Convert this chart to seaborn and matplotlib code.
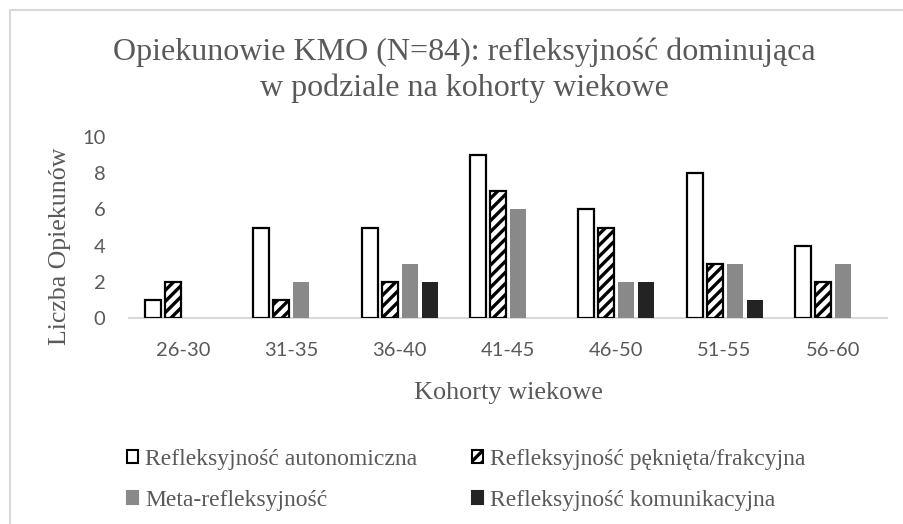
import matplotlib
matplotlib.use("Agg")
import matplotlib.pyplot as plt
import seaborn as sns
import pandas as pd
from matplotlib.patches import Rectangle

categories = ["26-30", "31-35", "36-40", "41-45", "46-50", "51-55", "56-60"]
series_names = ["Refleksyjność autonomiczna", "Refleksyjność pęknięta/frakcyjna",
                "Meta-refleksyjność", "Refleksyjność komunikacyjna"]
autonomiczna = [1, 5, 5, 9, 6, 8, 4]
peknieta = [2, 1, 2, 7, 5, 3, 2]
meta = [0, 2, 3, 6, 2, 3, 3]
komunikacyjna = [0, 0, 2, 0, 2, 1, 0]
y_ticks = [0, 2, 4, 6, 8, 10]

title = "Opiekunowie KMO (N=84): refleksyjność dominująca\nw podziale na kohorty wiekowe"
xlabel = "Kohorty wiekowe"
ylabel = "Liczba Opiekunów"

rows = []
for name, vals in zip(series_names, [autonomiczna, peknieta, meta, komunikacyjna]):
    for c, v in zip(categories, vals):
        rows.append({"Kohorta": c, "Seria": name, "Liczba": v})
df = pd.DataFrame(rows)

sns.set_theme(style="white")
plt.rcParams["hatch.linewidth"] = 2.4
plt.rcParams["hatch.color"] = "black"

W, H = 904, 524
fig = plt.figure(figsize=(W / 100, H / 100), dpi=100)
ax = fig.add_axes([129 / W, 1 - 318 / H, (887 - 129) / W, (318 - 137) / H])

palette = {series_names[0]: "white", series_names[1]: "white",
           series_names[2]: "#898989", series_names[3]: "#232323"}
sns.barplot(data=df, x="Kohorta", y="Liczba", hue="Seria", hue_order=series_names,
            order=categories, palette=palette, width=0.74, gap=0.2, ax=ax,
            errorbar=None, saturation=1)

styles = [dict(ec="black", lw=1.6, hatch=None),
          dict(ec="black", lw=1.6, hatch="///"),
          dict(ec="none", lw=0, hatch=None),
          dict(ec="none", lw=0, hatch=None)]
for cont, st in zip(ax.containers, styles):
    for p in cont:
        p.set_edgecolor(st["ec"])
        p.set_linewidth(st["lw"])
        if st["hatch"]:
            p.set_hatch(st["hatch"])
        if p.get_height() == 0 and st["ec"] == "none":
            p.set_visible(False)

ax.set_ylim(0, 10)
ax.set_xlim(-0.5, len(categories) - 0.5)
ax.set_yticks(y_ticks)
ax.set_yticklabels([str(t) for t in y_ticks])
for s in ["top", "right", "left"]:
    ax.spines[s].set_visible(False)
ax.spines["bottom"].set_color("#d9d9d9")
ax.spines["bottom"].set_linewidth(1.5)
ax.spines["bottom"].set_zorder(0)
ax.tick_params(axis="both", length=0, labelcolor="#595959", labelsize=14.5)
ax.tick_params(axis="y", pad=17)
ax.tick_params(axis="x", pad=17)
for lab in ax.get_xticklabels() + ax.get_yticklabels():
    lab.set_fontfamily("Lato")

serif = "Liberation Serif"
ax.set_xlabel(xlabel, fontfamily=serif, fontsize=18.9, color="#595959", labelpad=17)
ax.set_ylabel(ylabel, fontfamily=serif, fontsize=18.6, color="#595959")
ax.yaxis.set_label_coords((60 - 129) / (887 - 129), (318 - 246) / (318 - 137))
ax.yaxis.label.set_va("center")

fig.text(464 / W, 1 - 70 / H, title, ha="center", va="center", multialignment="center",
         fontfamily=serif, fontsize=23, color="#595959", linespacing=1.28)

# legend
ax.get_legend().remove()
hs = []
for i, st in enumerate(styles):
    fc = palette[series_names[i]]
    h = Rectangle((0, 0), 1, 1, facecolor=fc,
                  edgecolor=st["ec"] if st["ec"] != "none" else fc,
                  linewidth=1.5, hatch=st["hatch"])
    hs.append(h)
order = [0, 2, 1, 3]
leg = fig.legend([hs[i] for i in order], [series_names[i] for i in order],
                 ncol=2, loc="upper left", bbox_to_anchor=(127 / W, 1 - 449 / H),
                 frameon=False, prop={"family": serif, "size": 17},
                 handlelength=0.47, handleheight=0.47, handletextpad=0.3,
                 columnspacing=2.3, labelspacing=0.86, borderpad=0, borderaxespad=0)
for t in leg.get_texts():
    t.set_color("#595959")

# outer chart border
fig.patches.append(Rectangle((10 / W, -0.1), 2, 1 - 10 / H + 0.1, transform=fig.transFigure,
                             fill=False, edgecolor="#d9d9d9", linewidth=1.5))

fig.savefig("out.png", dpi=100, facecolor="white")
